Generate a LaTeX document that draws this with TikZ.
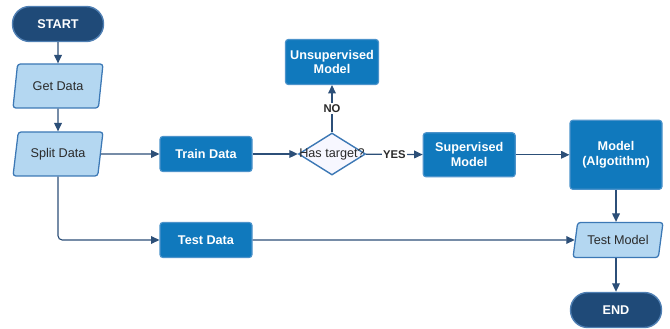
\documentclass[tikz,border=0pt]{standalone}
\usepackage{fontspec}
\setmainfont{Liberation Sans}
\usepackage{tikz}
\usetikzlibrary{shapes.geometric,arrows.meta,positioning,calc}
\definecolor{navyfill}{HTML}{1F4A78}
\definecolor{navyedge}{HTML}{4F7FB3}
\definecolor{paleblue}{HTML}{B4D7F1}
\definecolor{paleedge}{HTML}{3C78B5}
\definecolor{midblue}{HTML}{1079BD}
\definecolor{midedge}{HTML}{4C93CB}
\definecolor{wireblue}{HTML}{2C4F78}
\definecolor{inktext}{HTML}{2A2A2A}

\begin{document}
\begin{tikzpicture}[
  terminal/.style={draw=navyedge,fill=navyfill,rounded corners=4.3mm,line width=1pt,
    minimum width=2.275cm,minimum height=0.875cm,text=white,font=\fontsize{9}{10}\selectfont\bfseries},
  iobox/.style={draw=paleedge,fill=paleblue,trapezium,trapezium left angle=76,trapezium right angle=104,
    trapezium stretches body,line width=0.9pt,rounded corners=2pt,inner xsep=2pt,
    minimum width=2.25cm,minimum height=1.1cm,text=inktext,font=\fontsize{9}{10}\selectfont},
  process/.style={draw=midedge,fill=midblue,rounded corners=2pt,line width=0.8pt,align=center,
    minimum width=2.3cm,text=white,font=\fontsize{9}{10.5}\selectfont\bfseries},
  decision/.style={draw=paleedge,fill=blue!3,diamond,line width=1pt,inner sep=0pt,
    minimum width=1.675cm,minimum height=1.05cm},
  flow/.style={draw=wireblue,line width=0.8pt,-{Triangle[length=6pt,width=5.5pt]}},
  answer/.style={fill=white,inner sep=1pt,text=inktext,font=\fontsize{8}{9}\selectfont\bfseries}]

  \useasboundingbox (0,0) rectangle (16.75,8.2);

  \node[terminal] (start) at (1.45,7.6) {START};
  \node[iobox] (getd) at (1.45,6.05) {Get Data};
  \node[iobox] (split) at (1.45,4.35) {Split Data};
  \node[process,minimum height=0.875cm] (train) at (5.15,4.35) {Train Data};
  \node[decision,label={[text=inktext,font=\fontsize{9}{10}\selectfont]center:Has target?}] (has) at (8.3,4.35) {};
  \node[process,minimum height=1.125cm] (unsup) at (8.3,6.65) {Unsupervised\\Model};
  \node[process,minimum height=1.1cm] (sup) at (11.73,4.33) {Supervised\\Model};
  \node[process,minimum height=1.725cm] (model) at (15.4,4.33) {Model\\(Algotithm)};
  \node[process,minimum height=0.875cm] (testd) at (5.15,2.2) {Test Data};
  \node[iobox,minimum height=0.875cm] (testm) at (15.45,2.2) {Test Model};
  \node[terminal] (end) at (15.4,0.45) {END};

  \draw[flow] (start) -- (getd);
  \draw[flow] (getd) -- (split);
  \draw[flow] (split.east) -- (train);
  \draw[flow,rounded corners=3pt] (split.south) |- (testd);
  \draw[flow] (train) -- (has);
  \draw[flow] (has) -- node[answer] {NO} (unsup);
  \draw[flow] (has) -- node[answer] {YES} (sup);
  \draw[flow] (sup) -- (model);
  \draw[flow] (model.south) -- (model.south |- testm.north);
  \draw[flow] (testd) -- (testm);
  \draw[flow] (testm.south -| end.north) -- (end);
\end{tikzpicture}
\end{document}
